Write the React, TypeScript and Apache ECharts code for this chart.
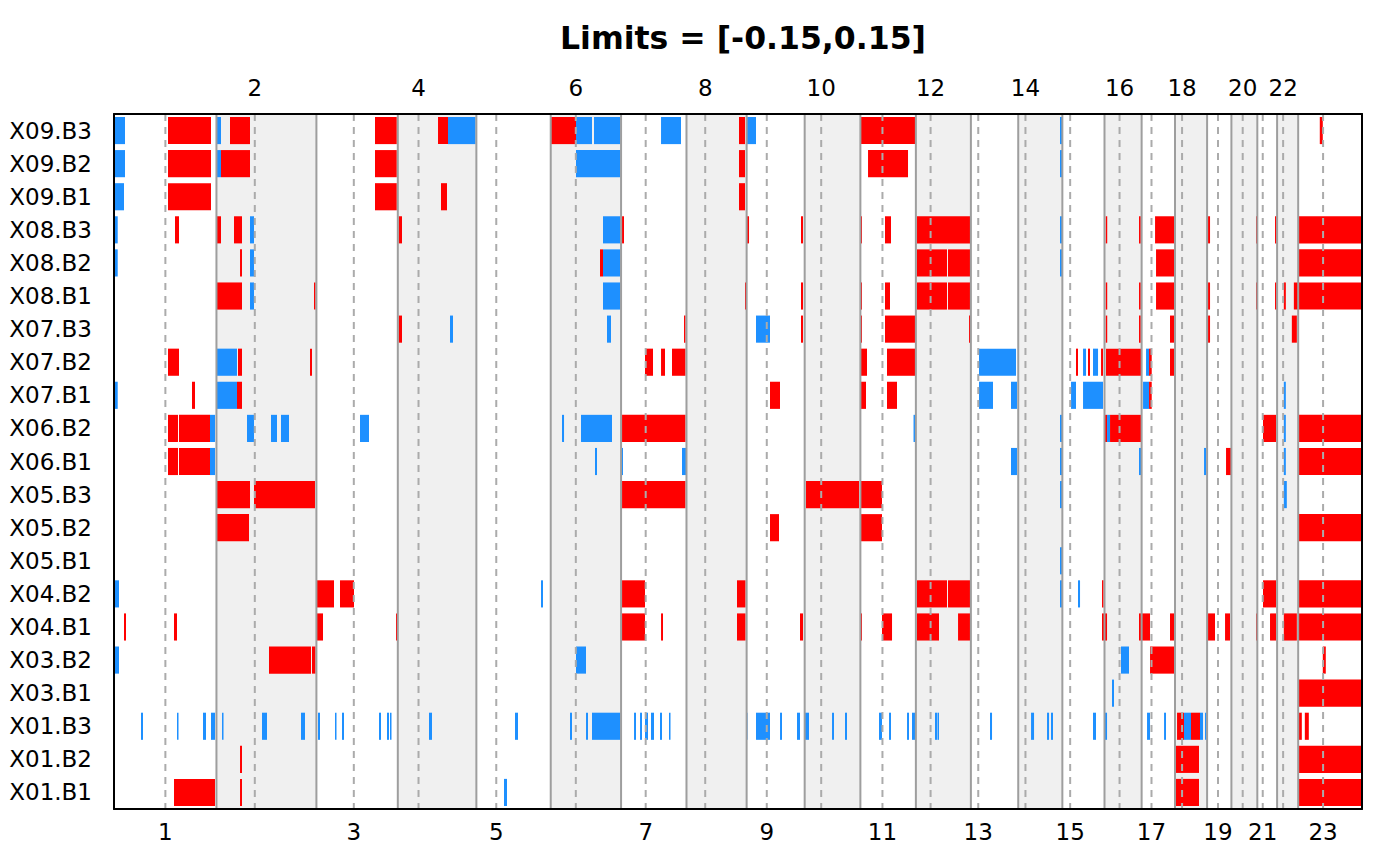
import { useEffect, useRef } from 'react'
import * as echarts from 'echarts'

// hg19 chromosome lengths and centromere midpoints (Mb); 23 = X
const chromLengths = [
  249.25, 243.2, 198.02, 191.15, 180.92, 171.12, 159.14, 146.36, 141.21, 135.53, 135.01, 133.85,
  115.17, 107.35, 102.53, 90.35, 81.2, 78.08, 59.13, 63.03, 48.13, 51.3, 155.27,
]
const centromeres = [
  125.0, 93.3, 91.0, 50.4, 48.4, 61.0, 59.9, 45.6, 49.0, 40.2, 53.7, 35.8, 17.9, 17.6, 19.0, 36.6,
  24.0, 17.2, 26.5, 27.5, 13.2, 14.7, 60.6,
]

const samples = [
  'X09.B3', 'X09.B2', 'X09.B1', 'X08.B3', 'X08.B2', 'X08.B1', 'X07.B3', 'X07.B2', 'X07.B1',
  'X06.B2', 'X06.B1', 'X05.B3', 'X05.B2', 'X05.B1', 'X04.B2', 'X04.B1', 'X03.B2', 'X03.B1',
  'X01.B3', 'X01.B2', 'X01.B1',
]

// segments: [start, end] in genome-wide Mb, state 1 = gain, -1 = loss
type Seg = [number, number, number]

const X09_B3: Seg[] = [
  [0, 26.8, -1], [131.4, 236.0, 1], [250.6, 260.3, -1], [282.2, 330.9, 1], [635.0, 688.0, 1],
  [788.3, 812.6, 1], [812.6, 879.5, -1], [1063.2, 1124.0, 1], [1124.0, 1162.9, -1],
  [1167.8, 1232.0, -1], [1330.9, 1379.5, -1], [1520.6, 1535.2, 1], [1540.1, 1562.0, -1],
  [1817.4, 1949.0, 1], [2301.6, 2306.5, -1], [2933.6, 2940.9, 1],
]
const X09_B2: Seg[] = [
  [0, 26.8, -1], [131.4, 236.0, 1], [250.6, 260.3, -1], [260.3, 330.9, 1], [635.0, 688.0, 1],
  [1124.0, 1232.0, -1], [1520.6, 1535.2, 1], [1834.5, 1931.8, 1], [2301.6, 2306.5, -1],
]
const X09_B1: Seg[] = [
  [0, 24.3, -1], [131.4, 236.0, 1], [635.0, 688.0, 1], [795.6, 810.2, 1], [1520.6, 1535.2, 1],
]
const X08_B3: Seg[] = [
  [0, 9.0, -1], [148.4, 158.1, 1], [250.6, 260.3, 1], [292.0, 311.4, 1], [330.9, 340.6, -1],
  [692.7, 700.7, 1], [1189.7, 1232.0, -1], [1236.0, 1240.8, 1], [1537.7, 1545.0, 1],
  [1671.4, 1676.3, 1], [1816.2, 1818.7, 1], [1875.8, 1890.4, 1], [1953.7, 2082.6, 1],
  [2301.6, 2306.5, -1], [2412.8, 2416.0, 1], [2493.8, 2498.0, 1], [2532.8, 2579.0, 1],
  [2661.7, 2666.6, 1], [2778.5, 2782.1, 1], [2824.7, 2828.3, 1], [2882.6, 3036.3, 1],
]
const X08_B2: Seg[] = [
  [0, 9.0, -1], [306.6, 311.4, 1], [330.9, 340.6, -1], [1182.4, 1189.7, 1], [1189.7, 1232.0, -1],
  [1953.7, 2026.7, 1], [2029.1, 2082.6, 1], [2301.6, 2306.5, -1], [2535.2, 2579.0, 1],
  [2882.6, 3036.3, 1],
]
const X08_B1: Seg[] = [
  [250.6, 311.4, 1], [330.9, 340.6, -1], [486.6, 489.0, 1], [1189.7, 1232.0, -1],
  [1535.2, 1537.7, 1], [1671.4, 1676.3, 1], [1816.2, 1818.7, 1], [1875.8, 1888.0, 1],
  [1953.7, 2026.7, 1], [2029.1, 2082.6, 1], [2412.8, 2416.0, 1], [2493.8, 2498.0, 1],
  [2535.2, 2579.0, 1], [2661.7, 2666.6, 1], [2778.5, 2780.9, 1], [2824.7, 2828.3, 1],
  [2846.1, 2851.0, 1], [2870.5, 3036.3, 1],
]
const X07_B3: Seg[] = [
  [692.7, 700.7, 1], [817.5, 824.8, -1], [1199.5, 1209.2, -1], [1386.8, 1390.4, 1],
  [1562.0, 1596.0, -1], [1671.4, 1676.3, 1], [1816.2, 1818.7, 1], [1875.8, 1949.0, 1],
  [2080.2, 2082.6, 1], [2412.8, 2416.0, 1], [2493.8, 2498.0, 1], [2569.2, 2579.0, 1],
  [2661.7, 2666.6, 1], [2865.6, 2877.8, 1],
]
const X07_B2: Seg[] = [
  [131.4, 158.1, 1], [250.6, 299.3, -1], [301.7, 311.4, 1], [476.9, 481.7, 1],
  [1291.9, 1311.4, 1], [1330.9, 1340.6, 1], [1357.6, 1390.4, 1], [1817.4, 1832.0, 1],
  [1880.7, 1949.0, 1], [2104.5, 2194.6, -1], [2340.5, 2345.4, 1], [2357.6, 2364.9, -1],
  [2369.7, 2374.6, 1], [2381.9, 2394.1, -1], [2401.4, 2406.2, 1], [2413.5, 2498.7, 1],
  [2510.9, 2518.2, -1], [2518.2, 2524.7, 1], [2569.2, 2579.0, 1],
]
const X07_B1: Seg[] = [
  [0, 9.0, -1], [189.8, 197.1, 1], [250.6, 299.3, -1], [299.3, 311.4, 1], [1596.0, 1620.4, 1],
  [1817.4, 1829.6, 1], [1880.7, 1905.0, 1], [2104.5, 2138.6, -1], [2182.4, 2197.0, -1],
  [2328.4, 2340.5, -1], [2357.6, 2406.2, -1], [2503.6, 2518.2, -1], [2518.2, 2524.7, 1],
  [2846.1, 2851.0, -1],
]
const X06_B2: Seg[] = [
  [131.4, 155.7, 1], [158.1, 233.6, 1], [233.6, 245.7, -1], [323.6, 340.6, -1], [382.0, 396.6, -1],
  [406.3, 425.8, -1], [598.5, 620.4, -1], [1090.0, 1094.9, -1], [1136.2, 1211.6, -1],
  [1236.0, 1390.4, 1], [1945.2, 1948.8, -1], [2301.6, 2306.5, -1], [2411.1, 2416.0, 1],
  [2416.0, 2423.3, -1], [2423.3, 2498.7, 1], [2795.5, 2827.1, 1], [2846.1, 2851.0, -1],
  [2882.6, 3036.3, 1],
]
const X06_B1: Seg[] = [
  [131.4, 155.7, 1], [158.1, 233.6, 1], [233.6, 245.7, -1], [1170.2, 1175.1, -1],
  [1234.7, 1238.4, -1], [1381.9, 1394.1, -1], [2182.4, 2197.0, -1], [2301.6, 2306.5, -1],
  [2493.8, 2498.7, -1], [2652.0, 2656.8, -1], [2705.5, 2717.7, 1], [2846.1, 2851.0, -1],
  [2882.6, 3036.3, 1],
]
const X05_B3: Seg[] = [
  [250.6, 330.9, 1], [340.6, 489.0, 1], [1236.0, 1390.4, 1], [1683.6, 1812.6, 1],
  [1817.4, 1868.5, 1], [2301.6, 2306.5, -1], [2846.1, 2853.4, -1],
]
const X05_B2: Seg[] = [
  [250.6, 328.5, 1], [1596.0, 1617.9, 1], [1817.4, 1868.5, 1], [2882.6, 3036.3, 1],
]
const X05_B1: Seg[] = [[2301.6, 2306.5, -1]]
const X04_B2: Seg[] = [
  [0, 12.2, -1], [493.9, 535.3, 1], [549.9, 583.9, 1], [1038.9, 1043.8, -1], [1236.0, 1291.9, 1],
  [1515.7, 1536.4, 1], [1953.7, 2026.7, 1], [2029.1, 2082.6, 1], [2301.6, 2306.5, -1],
  [2345.4, 2350.3, -1], [2403.8, 2407.5, 1], [2795.5, 2827.1, 1], [2882.6, 3036.3, 1],
]
const X04_B1: Seg[] = [
  [24.3, 29.2, 1], [146.0, 153.3, 1], [493.9, 508.5, 1], [686.1, 689.8, 1], [1236.0, 1291.9, 1],
  [1330.9, 1335.7, 1], [1515.7, 1536.4, 1], [1669.0, 1676.3, 1], [1816.2, 1818.7, 1],
  [1868.5, 1892.9, 1], [1953.7, 2007.2, 1], [2053.5, 2082.6, 1], [2403.8, 2416.0, 1],
  [2493.8, 2520.6, 1], [2569.2, 2579.0, 1], [2661.7, 2678.7, 1], [2703.1, 2715.2, 1],
  [2778.5, 2780.9, 1], [2812.5, 2827.1, 1], [2846.1, 2877.8, 1], [2882.6, 3036.3, 1],
]
const X03_B2: Seg[] = [
  [0, 12.2, -1], [377.1, 479.3, 1], [481.7, 490.2, 1], [1124.0, 1148.4, -1], [2450.0, 2469.5, -1],
  [2520.6, 2579.0, 1], [2940.9, 2948.2, 1],
]
const X03_B1: Seg[] = [[2428.1, 2433.0, -1], [2882.6, 3036.3, 1]]
const X01_B3: Seg[] = [
  [65.7, 70.6, -1], [153.3, 155.7, -1], [216.5, 223.8, -1], [236.0, 245.7, -1], [262.8, 265.2, -1],
  [360.1, 372.2, -1], [455.0, 464.7, -1], [496.3, 501.2, -1], [537.7, 540.1, -1],
  [554.7, 559.6, -1], [644.7, 649.6, -1], [664.2, 669.1, -1], [671.5, 673.9, -1],
  [766.4, 773.7, -1], [975.6, 982.9, -1], [1109.4, 1114.3, -1], [1148.4, 1153.2, -1],
  [1162.9, 1232.0, -1], [1265.2, 1270.0, -1], [1279.8, 1284.6, -1], [1291.9, 1299.2, -1],
  [1306.5, 1313.8, -1], [1328.4, 1333.3, -1], [1350.3, 1352.7, -1], [1537.7, 1540.1, -1],
  [1562.0, 1596.0, -1], [1620.4, 1625.2, -1], [1661.7, 1669.0, -1], [1681.2, 1690.9, -1],
  [1746.9, 1751.7, -1], [1778.5, 1783.4, -1], [1861.2, 1868.5, -1], [1885.6, 1890.4, -1],
  [1929.4, 1934.2, -1], [1941.5, 1948.8, -1], [1997.5, 2002.4, -1], [2003.5, 2007.2, -1],
  [2131.3, 2136.2, -1], [2231.1, 2238.4, -1], [2270.0, 2274.9, -1], [2279.7, 2284.6, -1],
  [2381.9, 2389.2, -1], [2411.1, 2416.0, -1], [2513.3, 2520.6, -1], [2554.7, 2559.5, -1],
  [2586.3, 2603.3, 1], [2603.3, 2620.3, -1], [2620.3, 2642.2, 1], [2642.2, 2649.5, -1],
  [2654.4, 2656.8, -1], [2882.6, 2889.9, 1], [2897.2, 2906.9, 1],
]
const X01_B2: Seg[] = [[306.6, 311.4, 1], [2583.8, 2639.8, 1], [2882.6, 3036.3, 1]]
const X01_B1: Seg[] = [
  [146.0, 245.7, 1], [306.6, 311.4, 1], [948.9, 956.2, -1], [2583.8, 2639.8, 1], [2882.6, 3036.3, 1],
]

const sampleSegs = [
  X09_B3, X09_B2, X09_B1, X08_B3, X08_B2, X08_B1, X07_B3, X07_B2, X07_B1, X06_B2, X06_B1,
  X05_B3, X05_B2, X05_B1, X04_B2, X04_B1, X03_B2, X03_B1, X01_B3, X01_B2, X01_B1,
]

const FONT = '"DejaVu Sans", sans-serif'

const chromStarts: number[] = []
chromLengths.forEach((len, i) => chromStarts.push(i === 0 ? 0 : chromStarts[i - 1] + chromLengths[i - 1]))
const genomeEnd = chromStarts[chromStarts.length - 1] + chromLengths[chromLengths.length - 1]
const cenGlobal = centromeres.map((c, i) => chromStarts[i] + c)

const chromLabel = (v: number) => String(cenGlobal.findIndex((c) => Math.abs(c - v) < 0.01) + 1)

function buildOption() {
  const segData = sampleSegs.flatMap((segs, row) =>
    segs.map(([s, e, st]) => [s, Math.min(e, genomeEnd), row, st]),
  )
  const chromData = chromLengths.map((len, i) => [chromStarts[i], chromStarts[i] + len, 0, i + 1])

  const xAxisBase = {
    type: 'value',
    min: 0,
    max: genomeEnd,
    z: 10,
    axisLine: { show: true, onZero: false, lineStyle: { color: '#000', width: 2 } },
    axisTick: { show: false },
    splitLine: { show: false },
  }

  return {
    animation: false,
    backgroundColor: '#fff',
    textStyle: { fontFamily: FONT },
    title: {
      text: 'Limits = [-0.15,0.15]',
      left: 738,
      top: 17,
      textAlign: 'center',
      textStyle: { fontSize: 31.5, fontWeight: 'bold', color: '#000', fontFamily: FONT },
    },
    grid: { left: 114, right: 38, top: 114, bottom: 57 },
    xAxis: [
      {
        ...xAxisBase,
        position: 'bottom',
        axisLabel: {
          customValues: cenGlobal.filter((_, i) => i % 2 === 0),
          formatter: chromLabel,
          fontSize: 23,
          color: '#000',
          margin: 11,
          fontFamily: FONT,
        },
      },
      {
        ...xAxisBase,
        position: 'top',
        axisLabel: {
          customValues: cenGlobal.filter((_, i) => i % 2 === 1),
          formatter: chromLabel,
          fontSize: 23,
          color: '#000',
          margin: 15,
          fontFamily: FONT,
        },
      },
    ],
    yAxis: [
      {
        type: 'category',
        data: samples,
        inverse: true,
        z: 10,
        axisLine: { show: true, onZero: false, lineStyle: { color: '#000', width: 2 } },
        axisTick: { show: false },
        axisLabel: { fontSize: 23, color: '#000', margin: 22, fontFamily: FONT },
      },
      {
        type: 'category',
        data: samples,
        inverse: true,
        position: 'right',
        z: 10,
        axisLine: { show: true, onZero: false, lineStyle: { color: '#000', width: 2 } },
        axisTick: { show: false },
        axisLabel: { show: false },
      },
    ],
    series: [
      {
        type: 'custom',
        name: 'bands',
        z: 1,
        silent: true,
        data: chromData,
        encode: { x: [0, 1], y: 2 },
        renderItem: (params: any, api: any) => {
          const cs = params.coordSys
          if (api.value(3) % 2 === 1) return { type: 'group', children: [] }
          const a = api.coord([api.value(0), 0])[0]
          const b = api.coord([api.value(1), 0])[0]
          return {
            type: 'rect',
            shape: { x: a, y: cs.y, width: b - a, height: cs.height },
            style: { fill: '#F0F0F0' },
          }
        },
      },
      {
        type: 'custom',
        name: 'segments',
        z: 2,
        data: segData,
        encode: { x: [0, 1], y: 2 },
        renderItem: (_params: any, api: any) => {
          const p0 = api.coord([api.value(0), api.value(2)])
          const p1 = api.coord([api.value(1), api.value(2)])
          const h = api.size([0, 1])[1] * 0.82
          return {
            type: 'rect',
            shape: { x: p0[0], y: p0[1] - h / 2, width: Math.max(p1[0] - p0[0], 1.5), height: h },
            style: { fill: api.value(3) > 0 ? '#FF0000' : '#1E90FF' },
          }
        },
      },
      {
        type: 'custom',
        name: 'chromLines',
        z: 3,
        silent: true,
        data: chromData.map((d, i) => [...d, cenGlobal[i]]),
        encode: { x: [0, 1], y: 2 },
        renderItem: (params: any, api: any) => {
          const cs = params.coordSys
          const children: any[] = []
          const xc = api.coord([api.value(4), 0])[0]
          children.push({
            type: 'line',
            shape: { x1: xc, y1: cs.y, x2: xc, y2: cs.y + cs.height },
            style: { stroke: '#ABABAB', lineWidth: 2, lineDash: [7, 6] },
          })
          if (api.value(3) > 1) {
            const xs = api.coord([api.value(0), 0])[0]
            children.push({
              type: 'line',
              shape: { x1: xs, y1: cs.y, x2: xs, y2: cs.y + cs.height },
              style: { stroke: '#9E9E9E', lineWidth: 2 },
            })
          }
          return { type: 'group', children }
        },
      },
    ],
  }
}

export default function App() {
  const ref = useRef<HTMLDivElement>(null)

  useEffect(() => {
    if (!ref.current) return
    const chart = echarts.init(ref.current, undefined, { renderer: 'svg' })
    chart.setOption(buildOption() as any)
    return () => chart.dispose()
  }, [])

  return (
    <div
      ref={ref}
      style={{ position: 'fixed', left: 0, top: 0, width: 1400, height: 866, background: '#fff' }}
    />
  )
}
